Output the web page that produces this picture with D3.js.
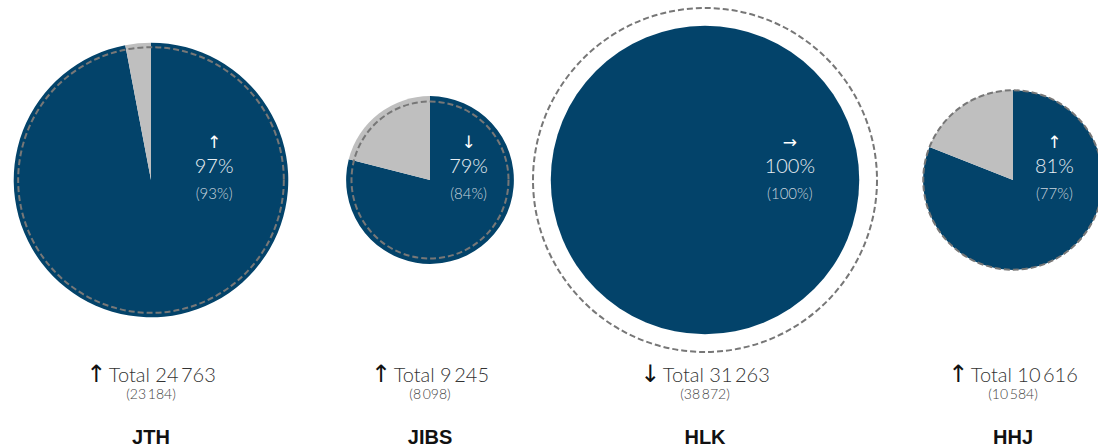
<html>
  <head>
    <style>
      body { margin: 0; background: #fff; }
      svg { display: block; }
    </style>
  </head>
  <body>
    <div id="vis"></div>
    <script src="https://d3js.org/d3.v7.min.js"></script>
    <script>
      // data
      const schools = ['JTH', 'JIBS', 'HLK', 'HHJ']
      const totals = [24763, 9245, 31263, 10616]
      const prevTotals = [23184, 8098, 38872, 10584]
      const shares = [97, 79, 100, 81]
      const prevShares = [93, 84, 100, 77]

      const width = 1098, height = 448, cy = 180
      const blue = '#03436a', grey = '#bfbfbf'

      const x = d3.scaleOrdinal().domain(schools).range([151, 430, 705, 1013])
      const r = d3.scaleSqrt()
              .domain([0, d3.max(prevTotals.concat(totals))])
              .range([0, 172])

      const fmt = d3.formatLocale({decimal: ',', thousands: '\u2009', grouping: [3], currency: ['', '']}).format(',d')
      const arrow = (a, b) => a > b ? '\u2191' : (a < b ? '\u2193' : '\u2192')

      const svg = d3.select('#vis').append('svg')
              .attr('width', width).attr('height', height)

      const pie = d3.pie().sort(null).value(d => d)
      const rows = schools.map((s, i) => ({
        name: s, total: totals[i], prev: prevTotals[i], share: shares[i], prevShare: prevShares[i]
      }))

      const g = svg.selectAll('g.school')
              .data(rows)
              .join('g')
              .attr('class', 'school')
              .attr('transform', d => 'translate(' + x(d.name) + ',' + cy + ')')

      g.each(function (d) {
        const rad = r(d.total)
        const arc = d3.arc().innerRadius(0).outerRadius(rad)
        d3.select(this).selectAll('path')
                .data(pie([d.share, 100 - d.share]))
                .join('path')
                .attr('d', arc)
                .attr('fill', (p, i) => i === 0 ? blue : grey)
      })

      g.append('circle')
              .attr('r', d => r(d.prev))
              .attr('fill', 'none')
              .attr('stroke', '#777')
              .attr('stroke-width', 2)
              .attr('stroke-dasharray', '6,3')

      // labels inside the pie
      const lx = d => r(d.total) * (d.share === 100 ? 0.55 : 0.46)
      g.append('text')
              .attr('x', lx).attr('y', -32)
              .attr('text-anchor', 'middle')
              .attr('fill', '#ffffff')
              .attr('font-family', 'DejaVu Sans')
              .attr('font-size', 17)
              .text(d => arrow(d.share, d.prevShare))
      g.append('text')
              .attr('x', lx).attr('y', -7)
              .attr('text-anchor', 'middle')
              .attr('fill', '#e8eef3')
              .attr('font-family', 'Lato')
              .attr('font-weight', 300)
              .attr('font-size', 20)
              .text(d => d.share + '%')
      g.append('text')
              .attr('x', lx).attr('y', 19)
              .attr('text-anchor', 'middle')
              .attr('fill', '#c9d4dd')
              .attr('font-family', 'Lato')
              .attr('font-weight', 300)
              .attr('font-size', 15)
              .text(d => '(' + d.prevShare + '%)')

      // totals under the pie
      const t = g.append('text')
              .attr('y', 202)
              .attr('text-anchor', 'middle')
              .attr('fill', '#333')
              .attr('font-size', 20)
      t.append('tspan').attr('font-family', 'DejaVu Sans').attr('font-size', 24).attr('fill', '#111').text(d => arrow(d.total, d.prev))
      t.append('tspan').attr('font-family', 'Lato').attr('font-weight', 300).text(d => '\u2009Total ' + fmt(d.total))

      g.append('text')
              .attr('y', 219)
              .attr('text-anchor', 'middle')
              .attr('fill', '#444')
              .attr('font-family', 'Lato')
              .attr('font-weight', 300)
              .attr('font-size', 14)
              .text(d => '(' + fmt(d.prev) + ')')

      g.append('text')
              .attr('y', 264)
              .attr('text-anchor', 'middle')
              .attr('fill', '#111')
              .attr('font-family', 'Liberation Sans, Arial')
              .attr('font-weight', 'bold')
              .attr('font-size', 20)
              .text(d => d.name)
    </script>
  </body>
</html>
